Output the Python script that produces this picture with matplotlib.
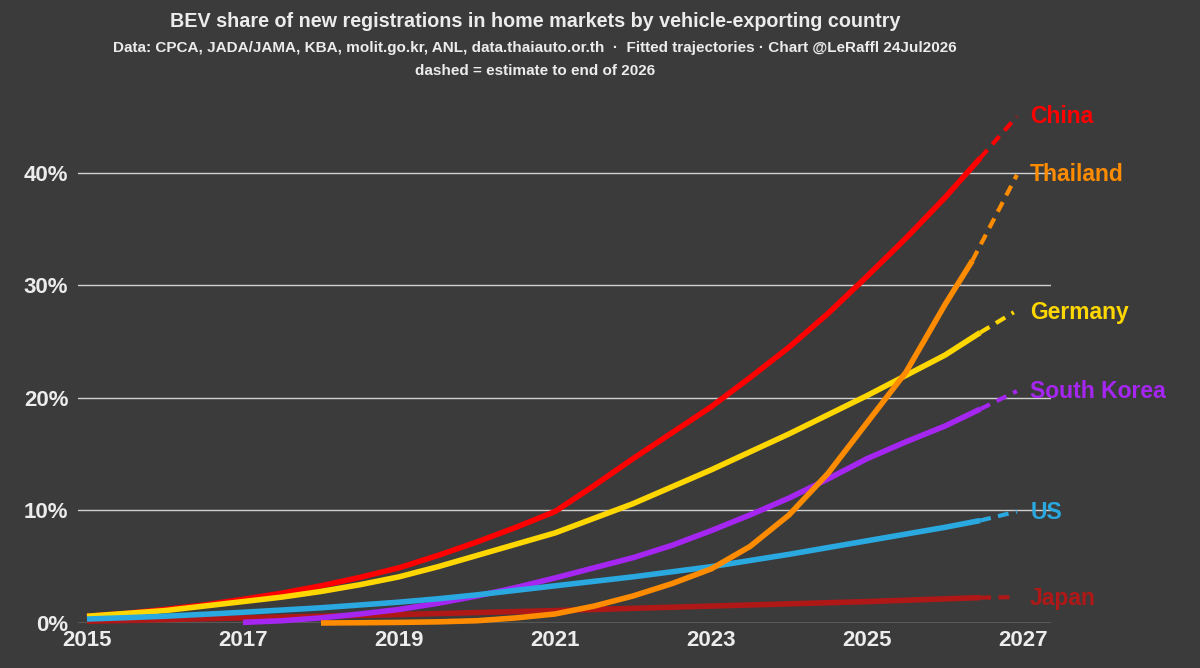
import matplotlib.pyplot as plt

# values (BEV share in %), last point = dashed estimate
years_china = [2015, 2015.5, 2016, 2016.5, 2017, 2017.5, 2018, 2018.5, 2019, 2019.5, 2020, 2020.5,
               2021, 2021.5, 2022, 2022.5, 2023, 2023.5, 2024, 2024.5, 2025, 2025.5, 2026, 2026.45, 2026.92]
china = [0.6, 0.85, 1.2, 1.6, 2.1, 2.65, 3.3, 4.05, 4.9, 6.0, 7.2, 8.5,
         9.9, 12.2, 14.6, 16.9, 19.2, 21.8, 24.5, 27.5, 30.8, 34.2, 37.8, 41.3, 45.0]

years_thai = [2018, 2018.5, 2019, 2019.5, 2020, 2020.5, 2021, 2021.5, 2022, 2022.5, 2023, 2023.5,
              2024, 2024.5, 2025, 2025.5, 2026, 2026.35, 2026.92]
thailand = [0.0, 0.02, 0.05, 0.1, 0.2, 0.45, 0.8, 1.5, 2.4, 3.5, 4.8, 6.8,
            9.6, 13.3, 17.8, 22.3, 28.3, 32.2, 39.8]

years_de = [2015, 2015.5, 2016, 2016.5, 2017, 2017.5, 2018, 2018.5, 2019, 2019.5, 2020, 2020.5,
            2021, 2021.5, 2022, 2022.5, 2023, 2023.5, 2024, 2024.5, 2025, 2025.5, 2026, 2026.45, 2026.88]
germany = [0.6, 0.85, 1.1, 1.5, 1.9, 2.3, 2.8, 3.4, 4.1, 5.0, 6.0, 7.0,
           8.0, 9.3, 10.6, 12.1, 13.6, 15.2, 16.8, 18.5, 20.2, 22.0, 23.8, 25.8, 27.6]

years_kr = [2017, 2017.5, 2018, 2018.5, 2019, 2019.5, 2020, 2020.5, 2021, 2021.5, 2022, 2022.5,
            2023, 2023.5, 2024, 2024.5, 2025, 2025.5, 2026, 2026.45, 2026.92]
south_korea = [0.05, 0.2, 0.45, 0.8, 1.2, 1.75, 2.4, 3.15, 4.0, 4.9, 5.8, 6.9,
               8.2, 9.6, 11.1, 12.8, 14.6, 16.1, 17.5, 19.0, 20.6]

years_us = [2015, 2015.5, 2016, 2016.5, 2017, 2017.5, 2018, 2018.5, 2019, 2019.5, 2020, 2020.5,
            2021, 2021.5, 2022, 2022.5, 2023, 2023.5, 2024, 2024.5, 2025, 2025.5, 2026, 2026.45, 2026.92]
us = [0.35, 0.47, 0.6, 0.77, 0.95, 1.15, 1.35, 1.6, 1.85, 2.15, 2.5, 2.9,
      3.3, 3.7, 4.1, 4.55, 5.0, 5.55, 6.1, 6.7, 7.3, 7.9, 8.5, 9.1, 9.9]

years_jp = [2015, 2017, 2019, 2021, 2023, 2025, 2026.45, 2026.92]
japan = [0.15, 0.45, 0.75, 1.1, 1.5, 1.9, 2.25, 2.3]

# drawing order: bottom -> top
series = [
    ("Japan", years_jp, japan, "#b01818", 2.2),
    ("China", years_china, china, "#ff0000", 45.0),
    ("Germany", years_de, germany, "#ffd700", 27.6),
    ("South Korea", years_kr, south_korea, "#a526f0", 20.6),
    ("US", years_us, us, "#2aa8e0", 9.8),
    ("Thailand", years_thai, thailand, "#ff8c00", 39.8),
]

bg = "#3b3b3b"
txt = "#ececec"

fig = plt.figure(figsize=(12, 6.68), dpi=100, facecolor=bg)
ax = fig.add_axes([0.065, 0.0674, 0.811, 0.792], facecolor=bg)

for name, x, y, col, ylab in series:
    ax.plot(x[:-1], y[:-1], color=col, lw=4, solid_capstyle="butt", solid_joinstyle="round",
            clip_on=False, zorder=3)
    ax.plot(x[-2:], y[-2:], color=col, lw=3, ls=(0, (2.6, 1.8)), clip_on=False, zorder=3)
    ax.text(2027.09, ylab, name, color=col, fontsize=16.5, fontweight="bold",
            va="center", ha="left", family="Liberation Sans")

ax.set_xlim(2014.885, 2027.36)
ax.set_ylim(0, 47)
ax.set_xticks(range(2015, 2028, 2))
ax.set_yticks([0, 10, 20, 30, 40])
ax.set_yticklabels([f"{v}%" for v in [0, 10, 20, 30, 40]])
ax.grid(axis="y", color="#d0d0d0", lw=1, zorder=1)
ax.grid(axis="x", visible=False)
for s in ax.spines.values():
    s.set_visible(False)
ax.tick_params(length=0, colors=txt, labelsize=16)
ax.tick_params(axis="x", pad=5)
ax.tick_params(axis="y", pad=7)
for lab in ax.get_xticklabels() + ax.get_yticklabels():
    lab.set_fontweight("bold")
    lab.set_family("Liberation Sans")

fig.text(0.446, 0.968, "BEV share of new registrations in home markets by vehicle-exporting country",
         ha="center", va="center", color=txt, fontsize=14.2, fontweight="bold", family="Liberation Sans")
fig.text(0.446, 0.928, "Data: CPCA, JADA/JAMA, KBA, molit.go.kr, ANL, data.thaiauto.or.th  \u00b7  Fitted trajectories \u00b7 Chart @LeRaffl 24Jul2026",
         ha="center", va="center", color=txt, fontsize=11, fontweight="bold", family="Liberation Sans")
fig.text(0.446, 0.893, "dashed = estimate to end of 2026",
         ha="center", va="center", color=txt, fontsize=11, fontweight="bold", family="Liberation Sans")

fig.savefig("out.png", dpi=100, facecolor=bg)
